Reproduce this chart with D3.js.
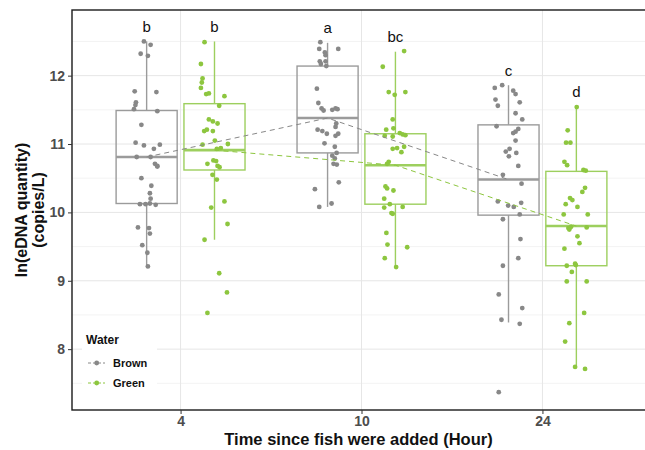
<!DOCTYPE html>
<html>
<head>
<meta charset="utf-8">
<script src="https://cdn.jsdelivr.net/npm/d3@7"></script>
<style>
  body { margin: 0; background: #fff; }
  svg { display: block; font-family: "Liberation Sans", Arial, sans-serif; }
</style>
</head>
<body>
<div class="chart"></div>
<script>
// Data
const hours = ["4", "10", "24"];
const waters = ["Brown", "Green"];
const yTicks = [8, 9, 10, 11, 12];

// box stats, one entry per hour (4, 10, 24)
const brownQ1 = [10.13, 10.87, 9.96];
const brownMedian = [10.81, 11.38, 10.48];
const brownQ3 = [11.49, 12.14, 11.28];
const brownLow = [9.21, 10.08, 8.39];
const brownHigh = [12.50, 12.48, 11.86];
const greenQ1 = [10.62, 10.12, 9.22];
const greenMedian = [10.91, 10.69, 9.80];
const greenQ3 = [11.59, 11.15, 10.60];
const greenLow = [9.60, 9.20, 7.76];
const greenHigh = [12.50, 12.35, 11.55];

// significance letters, hour by hour
const brownLetters = ["b", "a", "c"];
const greenLetters = ["b", "bc", "d"];

// observations (ln copies/L) and their horizontal jitter (fraction of a category step)
const brown4 = [12.50,12.45,12.32,12.29,11.77,11.76,11.61,11.57,11.51,11.48,11.28,11.02,10.98,10.93,10.99,10.81,10.81,10.71,10.68,10.67,10.50,10.39,10.28,10.20,10.12,10.12,10.13,10.11,9.78,9.77,9.69,9.52,9.41,9.21];
const brown4Jit = [-0.015,0.022,-0.033,0.007,-0.066,0.054,-0.059,-0.062,-0.070,0.059,-0.029,-0.061,-0.015,0.040,0.073,-0.055,0.022,0.046,0.059,0.059,-0.029,0.026,0.018,0.022,-0.037,-0.006,0.018,0.050,-0.048,0.013,0.018,-0.024,0.004,0.007];
const green4 = [12.49,12.17,11.96,11.90,11.82,11.73,11.74,11.70,11.56,11.36,11.33,11.30,11.19,11.21,11.19,11.05,10.99,11.00,10.93,10.94,10.71,10.76,10.75,10.68,10.66,10.55,10.48,10.07,10.16,9.60,9.83,9.11,8.83,8.53];
const green4Jit = [-0.055,-0.075,-0.066,-0.070,-0.075,-0.046,-0.031,0.055,0.026,-0.031,-0.009,0.017,-0.057,-0.042,-0.009,0.002,-0.066,0.074,0.013,0.035,-0.039,-0.006,0.009,0.017,0.028,-0.011,0.013,-0.018,0.055,-0.055,0.072,0.026,0.069,-0.039];
const brown10 = [12.49,12.39,12.39,12.34,12.30,12.21,12.21,12.17,12.14,11.81,11.60,11.52,11.49,11.50,11.52,11.51,11.30,11.25,11.21,11.19,11.15,11.15,11.12,11.01,10.96,10.87,10.83,10.79,10.71,10.70,10.44,10.34,10.13,10.08];
const brown10Jit = [-0.040,-0.046,0.059,-0.015,-0.011,-0.043,-0.011,-0.037,-0.007,-0.059,-0.051,-0.033,-0.022,0.026,0.044,0.055,0.048,0.044,-0.055,-0.029,-0.004,0.059,0.044,-0.017,0.040,0.050,0.026,0.040,0.033,0.051,0.062,-0.070,0.022,-0.046];
const green10 = [12.36,12.13,11.76,11.72,11.76,11.36,11.21,11.23,11.12,11.11,11.16,11.14,11.13,10.93,10.94,10.88,10.96,10.74,10.71,10.38,10.35,10.32,10.20,10.12,10.07,9.99,9.98,10.08,9.70,9.53,9.49,9.33,9.20];
const green10Jit = [0.048,-0.070,-0.037,-0.004,0.055,-0.015,-0.051,-0.011,-0.059,-0.015,0.024,0.040,0.055,-0.015,0.009,0.033,0.048,-0.037,-0.046,-0.055,-0.046,-0.011,-0.062,-0.031,-0.062,-0.022,-0.015,0.040,-0.050,-0.044,0.065,-0.059,0.004];
const brown24 = [11.86,11.82,11.78,11.73,11.65,11.56,11.61,11.45,11.36,11.26,11.22,11.18,11.16,11.05,10.93,10.89,10.87,10.82,10.68,10.55,10.42,10.16,10.10,10.08,10.14,9.97,9.90,9.61,9.33,9.22,8.80,8.60,8.43,8.37,7.37];
const brown24Jit = [-0.035,-0.076,0.026,0.039,-0.072,-0.059,0.062,0.039,0.076,-0.066,0.054,0.039,0.026,0.039,0.006,-0.015,0.043,0.002,0.054,-0.031,0.072,-0.059,-0.002,0.029,0.070,0.062,-0.031,0.066,0.054,-0.031,-0.054,0.076,-0.039,0.062,-0.054];
const green24 = [11.54,11.20,11.02,11.02,10.74,10.69,10.62,10.61,10.36,10.30,10.21,10.18,10.12,10.08,9.97,9.97,9.77,9.75,9.79,9.78,9.65,9.55,9.47,9.22,9.23,9.25,9.13,8.99,8.99,8.53,8.38,8.11,7.74,7.71];
const green24Jit = [0.002,-0.048,-0.057,-0.033,-0.066,-0.051,0.039,0.052,0.048,0.033,-0.035,-0.022,-0.059,0.006,-0.070,0.063,-0.044,-0.039,-0.029,0.057,0.006,0.017,-0.066,-0.053,-0.003,-0.007,-0.025,-0.053,0.057,0.043,-0.039,-0.062,-0.007,0.048];

// Styling
const width = 645, height = 450;
const panel = {left: 72, top: 10, right: 651, bottom: 410};
const pointColor = {Brown: "#888888", Green: "#8dc63f"};
const boxColor = {Brown: "#9b9b9b", Green: "#9dcf5e"};
const dodge = 0.1875, boxWidth = 0.3375;

const groups = [
  {water: "Brown", q1: brownQ1, med: brownMedian, q3: brownQ3, lo: brownLow, hi: brownHigh,
   letters: brownLetters, pts: [[brown4, brown4Jit], [brown10, brown10Jit], [brown24, brown24Jit]], side: -1},
  {water: "Green", q1: greenQ1, med: greenMedian, q3: greenQ3, lo: greenLow, hi: greenHigh,
   letters: greenLetters, pts: [[green4, green4Jit], [green10, green10Jit], [green24, green24Jit]], side: 1}
];

const svg = d3.select(".chart").append("svg")
  .attr("width", width)
  .attr("height", height);

const x = d3.scalePoint().domain(hours).range([panel.left, panel.right]).padding(0.6);
const step = x.step();
const y = d3.scaleLinear().domain([7.11, 12.96]).range([panel.bottom, panel.top]);

// grid
const grid = svg.append("g");
grid.selectAll(".minor").data(d3.range(7.5, 13, 1)).enter().append("line")
  .attr("x1", panel.left).attr("x2", panel.right)
  .attr("y1", d => y(d)).attr("y2", d => y(d))
  .attr("stroke", "#f0f0f0").attr("stroke-width", 0.8);
grid.selectAll(".major").data(yTicks).enter().append("line")
  .attr("x1", panel.left).attr("x2", panel.right)
  .attr("y1", d => y(d)).attr("y2", d => y(d))
  .attr("stroke", "#e6e6e6").attr("stroke-width", 1);
grid.selectAll(".vmajor").data(hours).enter().append("line")
  .attr("x1", d => x(d)).attr("x2", d => x(d))
  .attr("y1", panel.top).attr("y2", panel.bottom)
  .attr("stroke", "#e6e6e6").attr("stroke-width", 1);

const plot = svg.append("g");

// boxplots
groups.forEach(g => {
  hours.forEach((h, i) => {
    const cx = x(h) + g.side * dodge * step;
    const half = boxWidth * step / 2;
    const c = boxColor[g.water];
    plot.append("line").attr("x1", cx).attr("x2", cx)
      .attr("y1", y(g.q3[i])).attr("y2", y(g.hi[i]))
      .attr("stroke", c).attr("stroke-width", 1.4);
    plot.append("line").attr("x1", cx).attr("x2", cx)
      .attr("y1", y(g.q1[i])).attr("y2", y(g.lo[i]))
      .attr("stroke", c).attr("stroke-width", 1.4);
    plot.append("rect")
      .attr("x", cx - half).attr("width", 2 * half)
      .attr("y", y(g.q3[i])).attr("height", y(g.q1[i]) - y(g.q3[i]))
      .attr("fill", "none").attr("stroke", c).attr("stroke-width", 1.4);
    plot.append("line").attr("x1", cx - half).attr("x2", cx + half)
      .attr("y1", y(g.med[i])).attr("y2", y(g.med[i]))
      .attr("stroke", c).attr("stroke-width", 2.6);
  });
});

// jittered points
groups.forEach(g => {
  hours.forEach((h, i) => {
    const [vals, jit] = g.pts[i];
    const cx = x(h) + g.side * dodge * step;
    plot.selectAll(null).data(vals).enter().append("circle")
      .attr("cx", (d, j) => cx + jit[j] * step)
      .attr("cy", d => y(d))
      .attr("r", 2.4)
      .attr("fill", pointColor[g.water]);
  });
});

// dashed median lines
const line = d3.line().x(d => d[0]).y(d => y(d[1]));
groups.forEach(g => {
  const pts = hours.map((h, i) => [x(h) + g.side * dodge * step, g.med[i]]);
  plot.append("path").attr("d", line(pts))
    .attr("fill", "none").attr("stroke", pointColor[g.water])
    .attr("stroke-width", 1).attr("stroke-dasharray", "5,4");
});

// letters
groups.forEach(g => {
  hours.forEach((h, i) => {
    plot.append("text")
      .attr("x", x(h) + g.side * dodge * step)
      .attr("y", y(g.hi[i] + 0.14))
      .attr("text-anchor", "middle")
      .attr("font-size", 15)
      .attr("fill", "#111")
      .text(g.letters[i]);
  });
});

// legend
const legend = svg.append("g");
legend.append("rect").attr("x", 82).attr("y", 330).attr("width", 75).attr("height", 64).attr("fill", "#fff");
legend.append("text").attr("x", 86).attr("y", 344)
  .attr("font-size", 12).attr("font-weight", "bold").attr("fill", "#111").text("Water");
waters.forEach((w, i) => {
  const ky = 363 + i * 20;
  legend.append("line").attr("x1", 88).attr("x2", 105).attr("y1", ky).attr("y2", ky)
    .attr("stroke", pointColor[w]).attr("stroke-width", 1).attr("stroke-dasharray", "3,2");
  legend.append("circle").attr("cx", 96.7).attr("cy", ky).attr("r", 2.4).attr("fill", pointColor[w]);
  legend.append("text").attr("x", 113).attr("y", ky + 4)
    .attr("font-size", 11).attr("font-weight", "bold").attr("fill", "#111").text(w);
});

// panel border
svg.append("rect")
  .attr("x", panel.left).attr("y", panel.top)
  .attr("width", panel.right - panel.left).attr("height", panel.bottom - panel.top)
  .attr("fill", "none").attr("stroke", "#1a1a1a").attr("stroke-width", 1.4);

// axes
const yAxis = svg.append("g")
  .attr("transform", `translate(${panel.left},0)`)
  .call(d3.axisLeft(y).tickValues(yTicks).tickFormat(d3.format("d")).tickSize(4).tickPadding(3));
const xAxis = svg.append("g")
  .attr("transform", `translate(0,${panel.bottom})`)
  .call(d3.axisBottom(x).tickSize(4).tickPadding(2));
[xAxis, yAxis].forEach(a => {
  a.select(".domain").remove();
  a.selectAll(".tick line").attr("stroke", "#333");
  a.selectAll(".tick text").attr("fill", "#4d4d4d")
    .attr("font-size", 14).attr("font-weight", "bold")
    .attr("font-family", "Liberation Sans, Arial, sans-serif");
});

// titles
svg.append("text")
  .attr("x", (panel.left + panel.right) / 2 - 3).attr("y", 445)
  .attr("text-anchor", "middle").attr("font-size", 16.5).attr("font-weight", "bold")
  .attr("fill", "#111").text("Time since fish were added (Hour)");
const yTitle = svg.append("text")
  .attr("transform", `translate(27,${(panel.top + panel.bottom) / 2}) rotate(-90)`)
  .attr("text-anchor", "middle").attr("font-size", 16).attr("font-weight", "bold").attr("fill", "#111");
yTitle.append("tspan").attr("x", 0).attr("dy", 0).text("ln(eDNA quantity)");
yTitle.append("tspan").attr("x", 0).attr("dy", 17).text("(copies/L)");
</script>
</body>
</html>
